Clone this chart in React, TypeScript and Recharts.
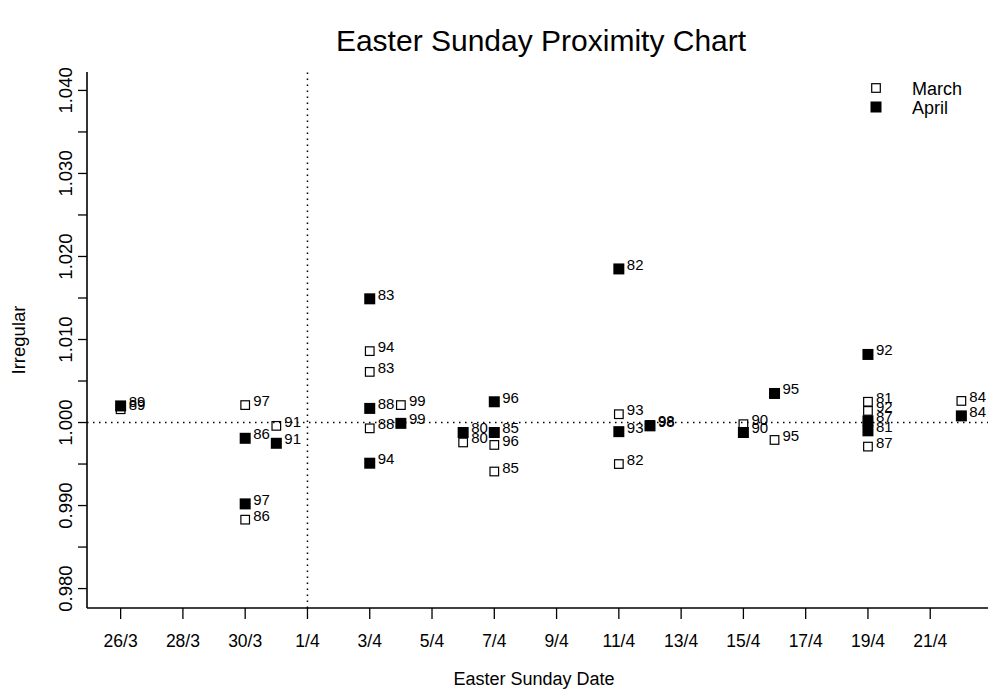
import { ScatterChart, Scatter, XAxis, YAxis, ReferenceLine } from 'recharts';

// one entry per year, 1980-1999
const years = ['80', '81', '82', '83', '84', '85', '86', '87', '88', '89', '90', '91', '92', '93', '94', '95', '96', '97', '98', '99'];
// Easter Sunday as days after 26 March
const easterDay = [11, 24, 16, 8, 27, 12, 4, 24, 8, 0, 20, 5, 24, 16, 8, 21, 12, 4, 17, 9];
const marchIrr = [0.9976, 1.0025, 0.995, 1.0061, 1.0026, 0.9941, 0.9883, 0.9971, 0.9993, 1.0016, 0.9998, 0.9996, 1.0014, 1.001, 1.0086, 0.9979, 0.9973, 1.0021, 0.9997, 1.0021];
const aprilIrr = [0.9988, 0.999, 1.0185, 1.0149, 1.0008, 0.9988, 0.9981, 1.0002, 1.0017, 1.002, 0.9988, 0.9975, 1.0082, 0.9989, 0.9951, 1.0035, 1.0025, 0.9902, 0.9996, 0.9999];

const xTicks = [0, 2, 4, 6, 8, 10, 12, 14, 16, 18, 20, 22, 24, 26];
const xTickLabels = ['26/3', '28/3', '30/3', '1/4', '3/4', '5/4', '7/4', '9/4', '11/4', '13/4', '15/4', '17/4', '19/4', '21/4'];
const yTicks = [0.98, 0.985, 0.99, 0.995, 1.0, 1.005, 1.01, 1.015, 1.02, 1.025, 1.03, 1.035, 1.04];
const yTickLabels = ['0.980', '', '0.990', '', '1.000', '', '1.010', '', '1.020', '', '1.030', '', '1.040'];

const FONT = '"Liberation Sans", Arial, sans-serif';

const marchData = years.map((yr, i) => ({ day: easterDay[i], value: marchIrr[i], yr }));
const aprilData = years.map((yr, i) => ({ day: easterDay[i], value: aprilIrr[i], yr }));

const OpenSquare = (p: any) => (
  <rect x={p.cx - 4.3} y={p.cy - 4.3} width={8.6} height={8.6} fill="none" stroke="#000" strokeWidth={1.2} />
);
const FilledSquare = (p: any) => <rect x={p.cx - 5.5} y={p.cy - 5.5} width={11} height={11} fill="#000" />;
const YearLabel = (p: any) => (
  <text x={p.cx + 8} y={p.cy + 1} fontSize={15} fontFamily={FONT} fill="#000">
    {p.payload.yr}
  </text>
);

const XTick = ({ x, y, payload }: any) => {
  const i = xTicks.indexOf(payload.value);
  return (
    <g>
      <line x1={x} x2={x} y1={y} y2={y + 11} stroke="#000" strokeWidth={1.3} />
      <text x={x} y={y + 39} textAnchor="middle" fontSize={17.5} fontFamily={FONT} fill="#000">
        {xTickLabels[i]}
      </text>
    </g>
  );
};

const YTick = ({ x, y, payload }: any) => {
  const i = yTicks.indexOf(payload.value);
  const lbl = yTickLabels[i];
  return (
    <g>
      <line x1={x} x2={x - 9} y1={y} y2={y} stroke="#000" strokeWidth={1.3} />
      {lbl && (
        <text
          x={x - 15}
          y={y}
          transform={`rotate(-90, ${x - 15}, ${y})`}
          textAnchor="middle"
          fontSize={18.5}
          fontFamily={FONT}
          fill="#000"
        >
          {lbl}
        </text>
      )}
    </g>
  );
};

export default function App() {
  return (
    <div style={{ position: 'absolute', left: 0, top: 0, width: 988, height: 694, overflow: 'hidden', background: '#fff' }}>
      <ScatterChart width={995} height={694} margin={{ top: 72, right: 0, bottom: 36, left: 0 }}>
        <XAxis
          type="number"
          dataKey="day"
          domain={[-1.08, 28.08]}
          ticks={xTicks}
          interval={0}
          height={50}
          tickSize={0}
          tickMargin={0}
          tick={<XTick />}
          tickLine={false}
          axisLine={{ stroke: '#000', strokeWidth: 1.6 }}
          allowDataOverflow
        />
        <XAxis
          xAxisId="top"
          orientation="top"
          type="number"
          domain={[-1.08, 28.08]}
          height={0}
          tick={false}
          tickLine={false}
          axisLine={{ stroke: '#000', strokeWidth: 1.6 }}
        />
        <YAxis
          type="number"
          dataKey="value"
          domain={[0.97766, 1.04222]}
          ticks={yTicks}
          interval={0}
          width={87}
          tickSize={0}
          tickMargin={0}
          tick={<YTick />}
          tickLine={false}
          axisLine={{ stroke: '#000', strokeWidth: 1.6 }}
          allowDataOverflow
        />
        <ReferenceLine y={1} stroke="#000" strokeWidth={1.5} strokeDasharray="1.5 4.5" />
        <ReferenceLine x={6} stroke="#000" strokeWidth={1.5} strokeDasharray="1.5 4.5" />
        <Scatter name="March" data={marchData} shape={<OpenSquare />} isAnimationActive={false} />
        <Scatter name="April" data={aprilData} shape={<FilledSquare />} isAnimationActive={false} />
        <Scatter data={marchData} shape={<YearLabel />} legendType="none" isAnimationActive={false} />
        <Scatter data={aprilData} shape={<YearLabel />} legendType="none" isAnimationActive={false} />
      </ScatterChart>
      <svg width={988} height={694} style={{ position: 'absolute', left: 0, top: 0, pointerEvents: 'none' }}>
        <text x={541} y={51} textAnchor="middle" fontSize={30} fontFamily={FONT} fill="#000">
          Easter Sunday Proximity Chart
        </text>
        <text x={534} y={685} textAnchor="middle" fontSize={18} fontFamily={FONT} fill="#000">
          Easter Sunday Date
        </text>
        <text x={25} y={340} transform="rotate(-90, 25, 340)" textAnchor="middle" fontSize={18.5} fontFamily={FONT} fill="#000">
          Irregular
        </text>
        <OpenSquare cx={876} cy={88} />
        <text x={912} y={95} fontSize={18} fontFamily={FONT} fill="#000">March</text>
        <FilledSquare cx={876} cy={107} />
        <text x={912} y={114} fontSize={18} fontFamily={FONT} fill="#000">April</text>
      </svg>
    </div>
  );
}
